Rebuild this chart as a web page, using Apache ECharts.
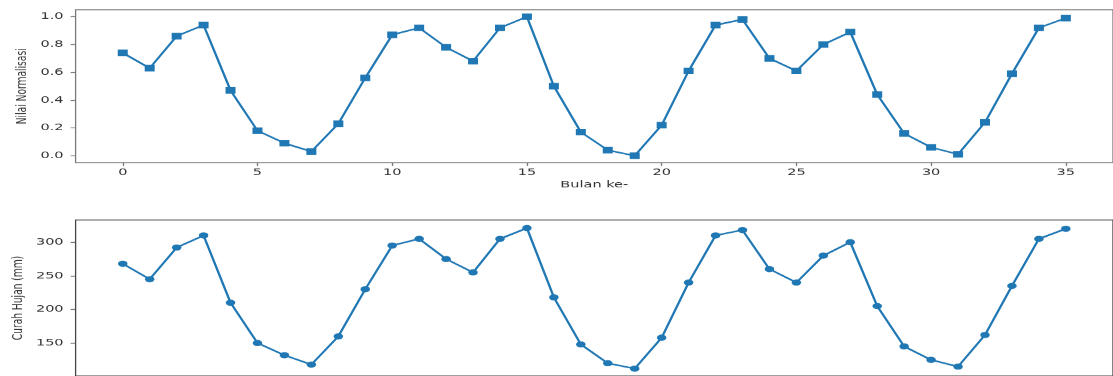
<!DOCTYPE html>
<html>
<head>
<meta charset="utf-8">
<script src="https://cdn.jsdelivr.net/npm/echarts@6/dist/echarts.min.js"></script>
<style>
  html, body { margin: 0; padding: 0; background: #ffffff; overflow: hidden; width: 1113px; height: 376px; }
  #chart { width: 1113px; height: 578px; transform: scaleY(0.65052); transform-origin: 0 0; }
</style>
</head>
<body>
<div id="chart"></div>
<script>
// ---- data ----
const months = [0,1,2,3,4,5,6,7,8,9,10,11,12,13,14,15,16,17,18,19,20,21,22,23,24,25,26,27,28,29,30,31,32,33,34,35];
const nilaiNormalisasi = [0.74,0.63,0.86,0.94,0.47,0.18,0.09,0.03,0.23,0.56,0.87,0.92,0.78,0.68,0.92,1.00,0.50,0.17,0.04,0.00,0.22,0.61,0.94,0.98,0.70,0.61,0.80,0.89,0.44,0.16,0.06,0.01,0.24,0.59,0.92,0.99];
const curahHujan = [268,245,292,310,210,150,132,118,160,230,295,305,275,255,305,321,218,148,120,112,158,240,310,318,260,240,280,300,205,145,125,115,162,235,305,320];
const xTicks = [0,5,10,15,20,25,30,35];
const yTicksTop = [0.0,0.2,0.4,0.6,0.8,1.0];
const yTicksBottom = [150,200,250,300];
const xLabel = 'Bulan ke-';
const yLabelTop = 'Nilai Normalisasi';
const yLabelBottom = 'Curah Hujan (mm)';

const blue = '#1f77b4';
const font = 'DejaVu Sans';
const chart = echarts.init(document.getElementById('chart'), null, { renderer: 'canvas' });

function xAxisCfg(gridIndex, showLabels, spine) {
  return {
    type: 'value', gridIndex: gridIndex, min: -1.75, max: 36.75, position: 'bottom',
    name: showLabels ? xLabel : '', nameLocation: 'middle', nameGap: 27,
    nameTextStyle: { fontFamily: font, fontSize: 14.5, color: '#333' },
    axisLine: { show: false, onZero: false },
    axisTick: { show: showLabels, length: 5, lineStyle: { color: spine, width: 1.3 }, customValues: xTicks },
    axisLabel: { show: showLabels, margin: 8, fontFamily: font, fontSize: 14.5, color: '#333', customValues: xTicks },
    splitLine: { show: false }
  };
}

chart.setOption({
  animation: false,
  backgroundColor: '#ffffff',
  grid: [
    { left: 75.6, width: 1043.7, top: 15.0, height: 235.0, show: true, borderColor: '#7a7a7a', borderWidth: 1.3, backgroundColor: 'transparent' },
    { left: 75.6, width: 1043.7, top: 338.2, height: 244.9, show: true, borderColor: '#444444', borderWidth: 1.3, backgroundColor: 'transparent' }
  ],
  xAxis: [ xAxisCfg(0, true, '#7a7a7a'), xAxisCfg(1, false, '#444') ],
  yAxis: [
    {
      type: 'value', gridIndex: 0, min: -0.05, max: 1.05, position: 'left',
      name: yLabelTop, nameLocation: 'middle', nameGap: 45,
      nameTextStyle: { fontFamily: font, fontSize: 14, color: '#333' },
      axisLine: { show: false, onZero: false },
      axisTick: { show: true, length: 5, lineStyle: { color: '#7a7a7a', width: 1.3 }, customValues: yTicksTop },
      axisLabel: { margin: 12, fontFamily: font, fontSize: 14.5, color: '#333', customValues: yTicksTop, formatter: v => v.toFixed(1) },
      splitLine: { show: false }
    },
    {
      type: 'value', gridIndex: 1, min: 101, max: 333, position: 'left',
      name: yLabelBottom, nameLocation: 'middle', nameGap: 47,
      nameTextStyle: { fontFamily: font, fontSize: 14, color: '#333' },
      axisLine: { show: false, onZero: false },
      axisTick: { show: true, length: 5, lineStyle: { color: '#555', width: 1.3 }, customValues: yTicksBottom },
      axisLabel: { margin: 12, fontFamily: font, fontSize: 14.5, color: '#333', customValues: yTicksBottom },
      splitLine: { show: false }
    }
  ],
  series: [
    {
      type: 'line', xAxisIndex: 0, yAxisIndex: 0,
      data: months.map((m, i) => [m, nilaiNormalisasi[i]]),
      symbol: 'rect', symbolSize: 10, showAllSymbol: true,
      itemStyle: { color: blue }, lineStyle: { color: blue, width: 2.4 }
    },
    {
      type: 'line', xAxisIndex: 1, yAxisIndex: 1,
      data: months.map((m, i) => [m, curahHujan[i]]),
      symbol: 'circle', symbolSize: 9.5, showAllSymbol: true,
      itemStyle: { color: blue }, lineStyle: { color: blue, width: 2.4 }
    }
  ]
});
</script>
</body>
</html>
